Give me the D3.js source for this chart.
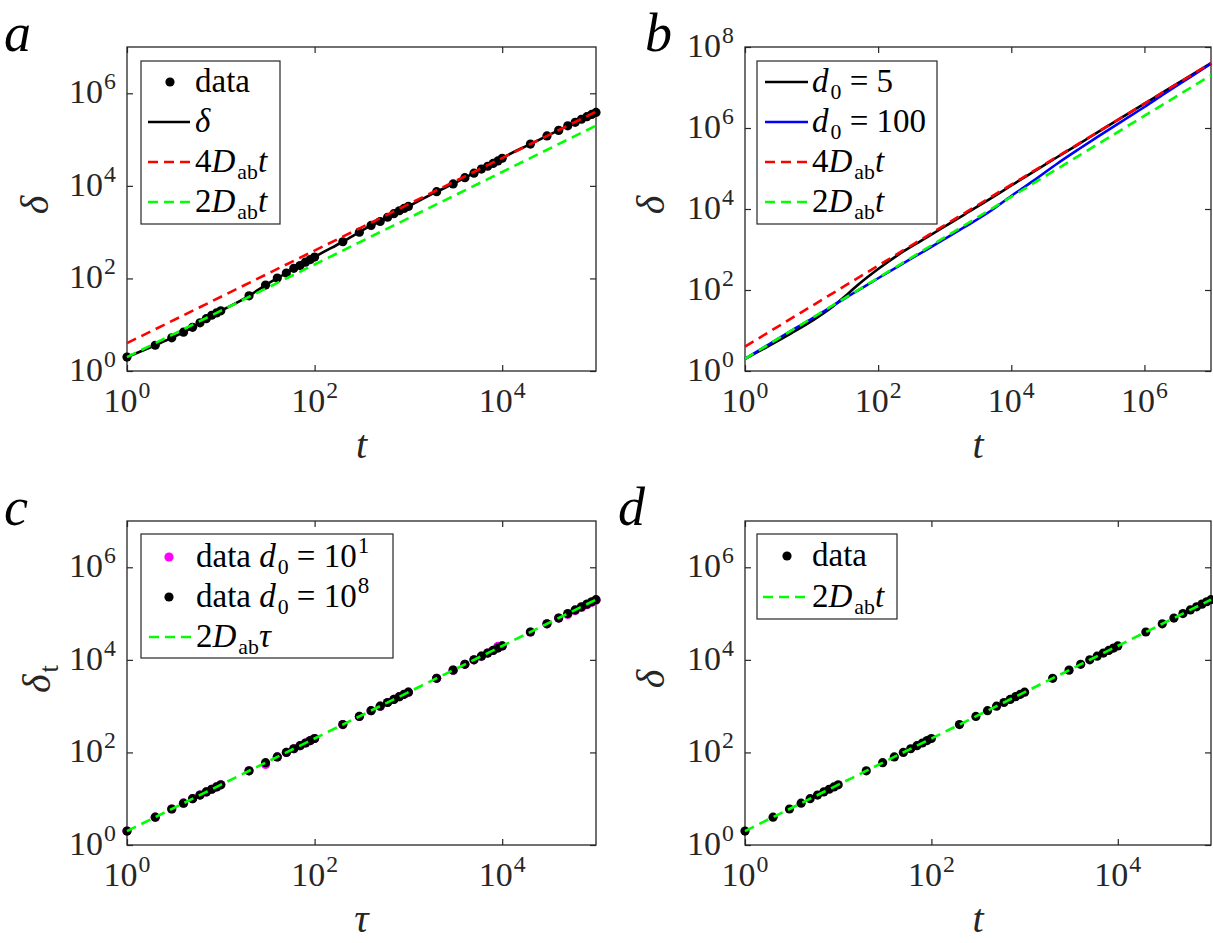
<!DOCTYPE html>
<html><head><meta charset="utf-8">
<script src="https://cdn.jsdelivr.net/npm/d3@7"></script>
<style>body{margin:0;background:#fff} svg text{font-family:"Liberation Serif","DejaVu Serif","Times New Roman",serif;}</style>
</head><body>
<svg id="fig" width="1213" height="943"></svg>
<script>
// ---------------- DATA ----------------
// panel a
const tA = [1,2,3,4,5,6,7,8,9,10,20,30,40,50,60,70,80,90,100,200,300,400,500,600,700,800,900,1000,
  2000,3000,4000,5000,6000,7000,8000,9000,10000,20000,30000,40000,50000,60000,70000,80000,90000,100000];
const deltaA = [2.0,3.6,5.2,6.9,8.8,11,13.5,16,18,20,42,72,102,131,165,190,225,255,290,
  620,1000,1400,1700,2100,2500,2900,3250,3600,7500,11000,15000,18800,23000,26500,30500,34500,39500,
  80000,120000,158000,198000,236000,275000,312000,350000,385000];
const fitTA = [1, 100000];
const fit4A = [4, 400000];
const fit2A = [2, 200000];
// panel b
const tB = [1,2,5,10,20,30,50,100,200,500,1000,2000,5000,10000,20000,50000,100000,200000,500000,1000000,2000000,5000000,10000000];
const deltaB5 = [2.0,3.7,8.6,17,37,64,135,330,740,1850,3700,7400,18500,38000,77000,195000,390000,790000,2000000,4000000,8000000,20000000,40000000];
const deltaB100 = [2.0,4.0,10,19.5,39,59,98,195,385,930,1820,3600,9200,21000,46000,135000,290000,610000,1600000,3300000,7000000,18500000,39000000];
const fitTB = [1, 10000000];
const fit4B = [4, 40000000];
const fit2B = [2, 20000000];
// panel c
const tauC = [1,2,3,4,5,6,7,8,9,10,20,30,40,50,60,70,80,90,100,200,300,400,500,600,700,800,900,1000,
  2000,3000,4000,5000,6000,7000,8000,9000,10000,20000,30000,40000,50000,60000,70000,80000,90000,100000];
const deltaC1 = [2,4,6,8,10,12,14,16,18,20,40,55,80,100,120,140,160,180,200,400,600,800,1000,1200,1400,1600,1800,2000,
  4000,6000,8000,10000,12000,14000,16000,19500,20000,40000,60000,80000,96000,116000,136000,155000,175000,195000];
const deltaC8 = [2,4,6,8,10,12,14,16,18,20,40,60,80,100,120,140,160,180,200,400,600,800,1000,1200,1400,1600,1800,2000,
  4000,6000,8000,10000,12000,14000,16000,18000,20000,40000,60000,80000,100000,120000,140000,160000,180000,200000];
const fitTC = [1, 100000];
const fit2C = [2, 200000];
// panel d
const tD = [1,2,3,4,5,6,7,8,9,10,20,30,40,50,60,70,80,90,100,200,300,400,500,600,700,800,900,1000,
  2000,3000,4000,5000,6000,7000,8000,9000,10000,20000,30000,40000,50000,60000,70000,80000,90000,100000];
const deltaD = [2,4,6,8,10,12,14,16,18,20,40,60,80,100,120,140,160,180,200,400,600,800,1000,1200,1400,1600,1800,2000,
  4000,6000,8000,10000,12000,14000,16000,18000,20000,40000,60000,80000,100000,120000,140000,160000,180000,200000];
const fitTD = [1, 100000];
const fit2D = [2, 200000];
// ticks
const xTicksA = [1,1e2,1e4], yTicksA = [1,1e2,1e4,1e6];
const xTicksB = [1,1e2,1e4,1e6], yTicksB = [1,1e2,1e4,1e6,1e8];

// ---------------- DRAWING ----------------
const AX = '#262626';
const RED='#ff0000', GREEN='#00ff00', BLUE='#0000ff', MAG='#ff00ff', BLK='#000000';
const svg = d3.select('#fig');
svg.append('rect').attr('width',1213).attr('height',943).attr('fill','#fff');

function mathText(parent, x, y, segs, size, color, anchor){
  const t = parent.append('text').attr('x',x).attr('y',y)
    .style('font-size',size+'px').attr('fill',color||'#000')
    .attr('text-anchor',anchor||'start');
  let shift = 0, prevItalic = false;
  segs.forEach(s=>{
    const sp = t.append('tspan').text(s.t);
    let target = 0, fs = size;
    if (s.sub){ target = size*0.2; fs = size*0.66; if (prevItalic) sp.attr('dx', 2); }
    if (s.sup){ target = -size*0.42; fs = size*0.7; sp.attr('dx', 1); }
    sp.attr('dy', target - shift).style('font-size', fs+'px');
    shift = target;
    if (s.i) sp.style('font-style','italic');
    prevItalic = !!s.i;
  });
  return t;
}

function makePanel(p){
  const x = d3.scaleLog().domain(p.xDom).range([p.left,p.right]);
  const y = d3.scaleLog().domain(p.yDom).range([p.bottom,p.top]);
  const g = svg.append('g');
  const gb = g.append('g').attr('transform',`translate(0,${p.bottom})`)
    .call(d3.axisBottom(x).tickValues(p.xTicks).tickSize(-6).tickFormat(''));
  const gt = g.append('g').attr('transform',`translate(0,${p.top})`)
    .call(d3.axisTop(x).tickValues(p.xTicks).tickSize(-6).tickFormat(''));
  const gl = g.append('g').attr('transform',`translate(${p.left},0)`)
    .call(d3.axisLeft(y).tickValues(p.yTicks).tickSize(-6).tickFormat(''));
  const gr = g.append('g').attr('transform',`translate(${p.right},0)`)
    .call(d3.axisRight(y).tickValues(p.yTicks).tickSize(-6).tickFormat(''));
  [gb,gt,gl,gr].forEach(a=>{a.select('.domain').remove(); a.selectAll('line').attr('stroke',AX).attr('stroke-width',1.2);});
  g.append('rect').attr('x',p.left).attr('y',p.top).attr('width',p.right-p.left).attr('height',p.bottom-p.top)
    .attr('fill','none').attr('stroke',AX).attr('stroke-width',1.3);
  p.xTicks.forEach(v=>{
    mathText(g, x(v), p.bottom+41, [{t:'10'},{t:String(Math.round(Math.log10(v))),sup:true}], 34, AX, 'middle');
  });
  p.yTicks.forEach(v=>{
    mathText(g, p.left-11, y(v)+10, [{t:'10'},{t:String(Math.round(Math.log10(v))),sup:true}], 34, AX, 'end');
  });
  mathText(g, (p.left+p.right)/2, p.bottom+87, p.xLab, 40, AX, 'middle');
  const yl = g.append('g').attr('transform',`translate(${p.yLabX},${(p.top+p.bottom)/2-4}) rotate(-90)`);
  mathText(yl, 0, 0, p.yLab, 40, AX, 'middle');
  g.append('text').attr('x',p.letX).attr('y',p.top+4).style('font-style','italic')
    .style('font-size','54px').attr('fill','#000').text(p.letter);
  return {x,y,g};
}

function line(P, ts, vs, color, dashed, w){
  const pts = ts.map((t,i)=>[P.x(t), P.y(vs[i])]);
  P.g.append('path').attr('d', d3.line().curve(d3.curveMonotoneX)(pts))
    .attr('fill','none').attr('stroke',color).attr('stroke-width',w||2.6)
    .attr('stroke-dasharray', dashed ? '10,6' : null);
}
function dots(P, ts, vs, color){
  P.g.append('g').selectAll('circle').data(ts).join('circle')
    .attr('cx',(t)=>P.x(t)).attr('cy',(t,i)=>P.y(vs[i])).attr('r',4.6).attr('fill',color);
}
function legend(P, L){
  const g = P.g.append('g');
  g.append('rect').attr('x',L.x0).attr('y',L.y0).attr('width',L.x1-L.x0).attr('height',L.y1-L.y0)
    .attr('fill','#fff').attr('stroke',AX).attr('stroke-width',1.2);
  L.items.forEach((it,i)=>{
    const base = L.base0 + i*L.step;
    const cy = base-10;
    if (it.type==='dot') g.append('circle').attr('cx',L.mark).attr('cy',cy).attr('r',4.6).attr('fill',it.color);
    else g.append('line').attr('x1',L.l0).attr('x2',L.l1).attr('y1',cy).attr('y2',cy)
      .attr('stroke',it.color).attr('stroke-width',2.6).attr('stroke-dasharray', it.type==='dash'?'10,6':null);
    mathText(g, L.tx, base, it.segs, 33, '#000', 'start');
  });
}

const Dab = (v)=>[{t:v},{t:'D',i:true},{t:'ab',sub:true}];

const A = makePanel({left:127,right:596,top:47,bottom:371,xDom:[1,1e5],yDom:[1,1e7],xTicks:xTicksA,yTicks:yTicksA,
  xLab:[{t:'t',i:true}], yLab:[{t:'δ',i:true}], yLabX:48, letter:'a', letX:4});
dots(A, tA, deltaA, BLK);
line(A, tA, deltaA, BLK, false);
line(A, fitTA, fit4A, RED, true);
line(A, fitTA, fit2A, GREEN, true);
legend(A, {x0:141,x1:280,y0:61,y1:224,base0:92,step:40,mark:170,l0:148,l1:190,tx:195,items:[
  {type:'dot',color:BLK,segs:[{t:'data'}]},
  {type:'line',color:BLK,segs:[{t:'δ',i:true}]},
  {type:'dash',color:RED,segs:[...Dab('4'),{t:'t',i:true}]},
  {type:'dash',color:GREEN,segs:[...Dab('2'),{t:'t',i:true}]}]});

const B = makePanel({left:745,right:1211,top:47,bottom:371,xDom:[1,1e7],yDom:[1,1e8],xTicks:xTicksB,yTicks:yTicksB,
  xLab:[{t:'t',i:true}], yLab:[{t:'δ',i:true}], yLabX:664, letter:'b', letX:645});
line(B, tB, deltaB5, BLK, false);
line(B, tB, deltaB100, BLUE, false);
line(B, fitTB, fit4B, RED, true);
line(B, fitTB, fit2B, GREEN, true);
legend(B, {x0:757,x1:937,y0:61,y1:224,base0:92,step:40,mark:785,l0:765,l1:808,tx:812,items:[
  {type:'line',color:BLK,segs:[{t:'d',i:true},{t:'0',sub:true},{t:' = 5'}]},
  {type:'line',color:BLUE,segs:[{t:'d',i:true},{t:'0',sub:true},{t:' = 100'}]},
  {type:'dash',color:RED,segs:[...Dab('4'),{t:'t',i:true}]},
  {type:'dash',color:GREEN,segs:[...Dab('2'),{t:'t',i:true}]}]});

const C = makePanel({left:127,right:596,top:521,bottom:845,xDom:[1,1e5],yDom:[1,1e7],xTicks:xTicksA,yTicks:yTicksA,
  xLab:[{t:'τ',i:true}], yLab:[{t:'δ',i:true},{t:'t',sub:true}], yLabX:50, letter:'c', letX:4});
dots(C, tauC, deltaC1, MAG);
dots(C, tauC, deltaC8, BLK);
line(C, fitTC, fit2C, GREEN, true);
legend(C, {x0:141,x1:393,y0:534,y1:658,base0:567,step:40,mark:169,l0:149,l1:194,tx:196,items:[
  {type:'dot',color:MAG,segs:[{t:'data '},{t:'d',i:true},{t:'0',sub:true},{t:' = 10'},{t:'1',sup:true}]},
  {type:'dot',color:BLK,segs:[{t:'data '},{t:'d',i:true},{t:'0',sub:true},{t:' = 10'},{t:'8',sup:true}]},
  {type:'dash',color:GREEN,segs:[...Dab('2'),{t:'τ',i:true}]}]});

const Dp = makePanel({left:745,right:1211,top:521,bottom:845,xDom:[1,1e5],yDom:[1,1e7],xTicks:xTicksA,yTicks:yTicksA,
  xLab:[{t:'t',i:true}], yLab:[{t:'δ',i:true}], yLabX:664, letter:'d', letX:618});
dots(Dp, tD, deltaD, BLK);
line(Dp, fitTD, fit2D, GREEN, true);
legend(Dp, {x0:757,x1:897,y0:534,y1:619,base0:566,step:41,mark:787,l0:763,l1:808,tx:812,items:[
  {type:'dot',color:BLK,segs:[{t:'data'}]},
  {type:'dash',color:GREEN,segs:[...Dab('2'),{t:'t',i:true}]}]});
</script>
</body></html>
